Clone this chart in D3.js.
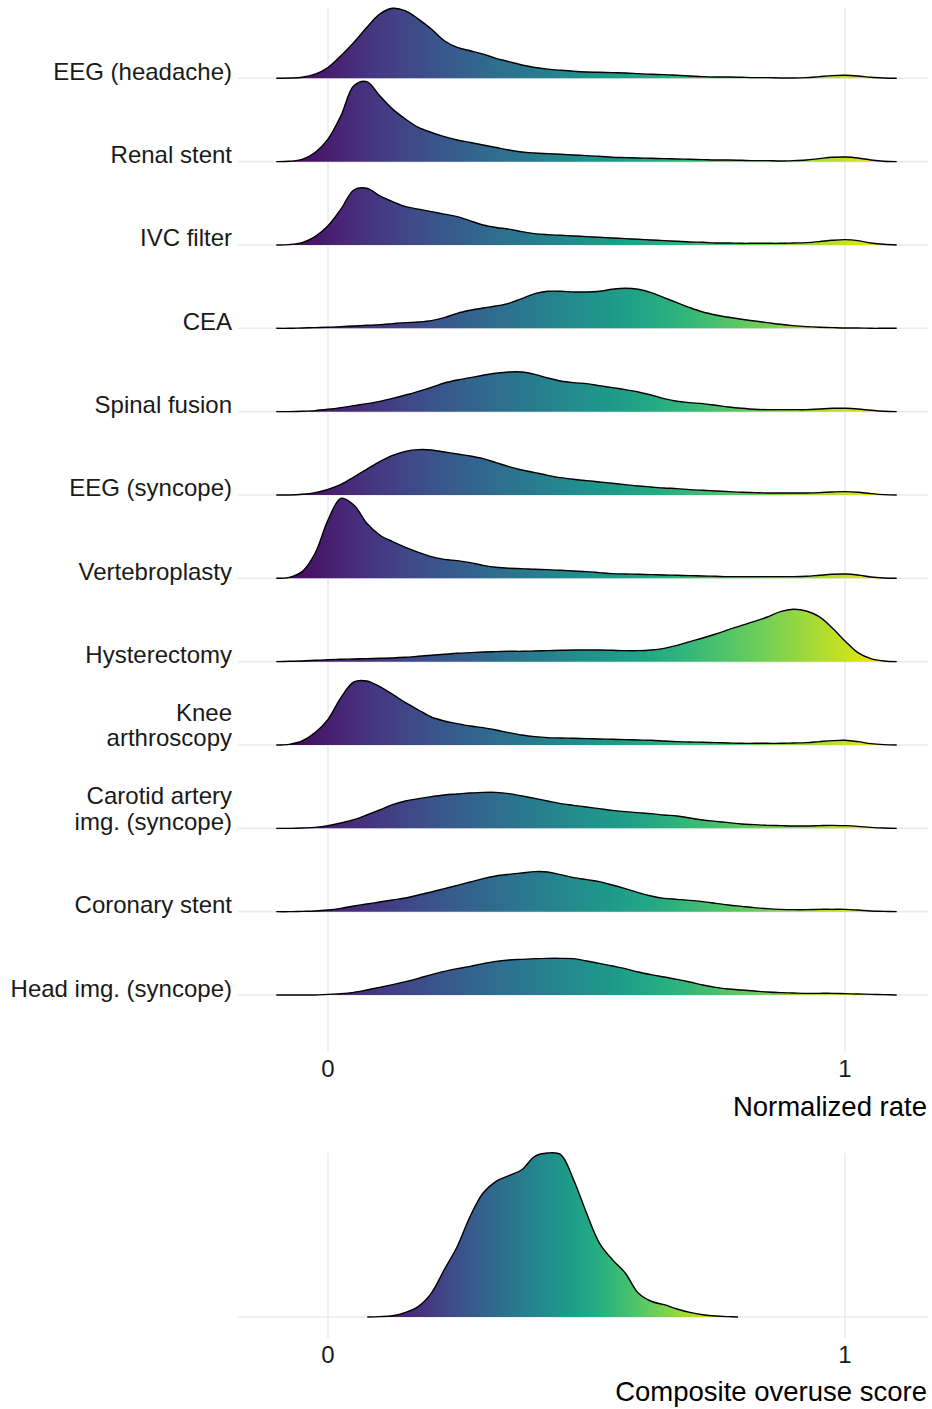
<!DOCTYPE html>
<html>
<head>
<meta charset="utf-8">
<script src="https://cdn.jsdelivr.net/npm/d3@7"></script>
<style>
  html, body { margin: 0; padding: 0; background: #ffffff; }
  svg { display: block; }
  text { font-family: "Liberation Sans", Arial, Helvetica, sans-serif; }
</style>
</head>
<body>
<svg id="chart" width="932" height="1409"></svg>
<script>
// Procedures, top to bottom ("\n" marks a line break in the axis label)
const categories = [
  "EEG (headache)",
  "Renal stent",
  "IVC filter",
  "CEA",
  "Spinal fusion",
  "EEG (syncope)",
  "Vertebroplasty",
  "Hysterectomy",
  "Knee\narthroscopy",
  "Carotid artery\nimg. (syncope)",
  "Coronary stent",
  "Head img. (syncope)"
];

// Normalized-rate positions at which each density is sampled
const rateGrid = [
  -0.1, -0.075, -0.05, -0.025, 0, 0.025, 0.05, 0.075, 0.1, 0.125,
  0.15, 0.175, 0.2, 0.225, 0.25, 0.275, 0.3, 0.325, 0.35, 0.375,
  0.4, 0.425, 0.45, 0.475, 0.5, 0.525, 0.55, 0.575, 0.6, 0.625,
  0.65, 0.675, 0.7, 0.725, 0.75, 0.775, 0.8, 0.825, 0.85, 0.875,
  0.9, 0.925, 0.95, 0.975, 1.0, 1.025, 1.05, 1.075, 1.1
];

// Density heights (in units of ridge spacing) for each procedure
const eegHeadache = [0, 0.003, 0.012, 0.05, 0.13, 0.27, 0.43, 0.61, 0.77, 0.84,
  0.81, 0.71, 0.59, 0.45, 0.37, 0.33, 0.29, 0.24, 0.20, 0.16,
  0.13, 0.11, 0.096, 0.084, 0.076, 0.072, 0.068, 0.064, 0.056, 0.048,
  0.044, 0.036, 0.028, 0.02, 0.016, 0.016, 0.012, 0.008, 0.008, 0.004,
  0.004, 0.008, 0.02, 0.032, 0.036, 0.028, 0.012, 0.004, 0];
const renalStent = [0, 0.004, 0.028, 0.11, 0.27, 0.55, 0.91, 0.96, 0.79, 0.63,
  0.51, 0.41, 0.35, 0.30, 0.26, 0.23, 0.20, 0.17, 0.14, 0.116,
  0.104, 0.096, 0.088, 0.08, 0.072, 0.064, 0.052, 0.048, 0.044, 0.04,
  0.036, 0.032, 0.028, 0.024, 0.02, 0.02, 0.016, 0.012, 0.012, 0.008,
  0.012, 0.02, 0.036, 0.052, 0.056, 0.044, 0.02, 0.004, 0];
const ivcFilter = [0, 0.004, 0.028, 0.1, 0.23, 0.43, 0.66, 0.68, 0.59, 0.52,
  0.46, 0.43, 0.40, 0.37, 0.34, 0.29, 0.24, 0.21, 0.19, 0.16,
  0.136, 0.124, 0.116, 0.108, 0.1, 0.092, 0.084, 0.076, 0.068, 0.06,
  0.052, 0.044, 0.036, 0.032, 0.024, 0.024, 0.02, 0.02, 0.02, 0.02,
  0.024, 0.028, 0.04, 0.056, 0.064, 0.052, 0.024, 0.008, 0];
const cea = [0, 0, 0.004, 0.008, 0.012, 0.02, 0.028, 0.036, 0.044, 0.056,
  0.068, 0.076, 0.092, 0.128, 0.18, 0.216, 0.244, 0.268, 0.30, 0.356,
  0.416, 0.444, 0.444, 0.436, 0.436, 0.444, 0.468, 0.48, 0.468, 0.428,
  0.368, 0.308, 0.248, 0.196, 0.16, 0.132, 0.108, 0.088, 0.068, 0.048,
  0.032, 0.02, 0.012, 0.008, 0.004, 0.004, 0, 0, 0];
const spinalFusion = [0, 0, 0.004, 0.012, 0.028, 0.048, 0.072, 0.096, 0.124, 0.16,
  0.2, 0.244, 0.292, 0.344, 0.38, 0.408, 0.436, 0.46, 0.476, 0.476,
  0.448, 0.404, 0.368, 0.348, 0.336, 0.312, 0.288, 0.264, 0.236, 0.2,
  0.156, 0.124, 0.108, 0.096, 0.076, 0.056, 0.04, 0.028, 0.024, 0.024,
  0.024, 0.024, 0.032, 0.04, 0.04, 0.032, 0.016, 0.004, 0];
const eegSyncope = [0, 0, 0.008, 0.028, 0.068, 0.128, 0.216, 0.308, 0.40, 0.476,
  0.524, 0.544, 0.54, 0.516, 0.492, 0.468, 0.436, 0.388, 0.34, 0.30,
  0.268, 0.236, 0.208, 0.188, 0.172, 0.156, 0.14, 0.124, 0.108, 0.096,
  0.084, 0.076, 0.064, 0.056, 0.048, 0.04, 0.032, 0.028, 0.024, 0.024,
  0.024, 0.024, 0.028, 0.036, 0.04, 0.032, 0.016, 0.004, 0];
const vertebroplasty = [0, 0.012, 0.08, 0.30, 0.70, 0.96, 0.88, 0.66, 0.52, 0.44,
  0.372, 0.312, 0.26, 0.228, 0.212, 0.188, 0.156, 0.132, 0.12, 0.116,
  0.108, 0.104, 0.096, 0.088, 0.08, 0.068, 0.056, 0.052, 0.048, 0.044,
  0.04, 0.036, 0.032, 0.028, 0.024, 0.02, 0.02, 0.02, 0.02, 0.02,
  0.02, 0.024, 0.036, 0.048, 0.052, 0.04, 0.016, 0.004, 0];
const hysterectomy = [0, 0.004, 0.008, 0.016, 0.024, 0.028, 0.032, 0.036, 0.04, 0.044,
  0.052, 0.064, 0.076, 0.088, 0.10, 0.108, 0.116, 0.12, 0.124, 0.124,
  0.128, 0.132, 0.136, 0.14, 0.14, 0.14, 0.136, 0.132, 0.132, 0.14,
  0.16, 0.196, 0.24, 0.284, 0.332, 0.384, 0.436, 0.484, 0.536, 0.60,
  0.628, 0.608, 0.54, 0.408, 0.248, 0.108, 0.036, 0.008, 0];
const kneeArthroscopy = [0, 0.008, 0.048, 0.148, 0.308, 0.568, 0.756, 0.768, 0.70, 0.608,
  0.508, 0.42, 0.336, 0.288, 0.256, 0.228, 0.208, 0.18, 0.148, 0.12,
  0.10, 0.088, 0.084, 0.08, 0.076, 0.072, 0.068, 0.064, 0.06, 0.056,
  0.048, 0.04, 0.036, 0.032, 0.028, 0.024, 0.02, 0.02, 0.02, 0.02,
  0.024, 0.028, 0.04, 0.052, 0.056, 0.04, 0.016, 0.004, 0];
const carotidImg = [0, 0, 0.004, 0.012, 0.032, 0.064, 0.104, 0.16, 0.22, 0.284,
  0.328, 0.356, 0.38, 0.40, 0.412, 0.424, 0.432, 0.432, 0.416, 0.388,
  0.36, 0.328, 0.296, 0.276, 0.256, 0.236, 0.216, 0.20, 0.188, 0.176,
  0.16, 0.148, 0.124, 0.10, 0.084, 0.068, 0.052, 0.044, 0.036, 0.032,
  0.028, 0.028, 0.032, 0.036, 0.032, 0.024, 0.012, 0.004, 0];
const coronaryStent = [0, 0, 0.004, 0.008, 0.02, 0.04, 0.068, 0.092, 0.116, 0.14,
  0.164, 0.20, 0.236, 0.276, 0.316, 0.356, 0.396, 0.428, 0.448, 0.464,
  0.48, 0.476, 0.444, 0.408, 0.384, 0.36, 0.32, 0.276, 0.228, 0.188,
  0.16, 0.148, 0.136, 0.12, 0.10, 0.08, 0.064, 0.048, 0.036, 0.028,
  0.024, 0.024, 0.028, 0.028, 0.028, 0.02, 0.008, 0.004, 0];
const headImg = [0, 0, 0, 0, 0.008, 0.016, 0.032, 0.06, 0.092, 0.124,
  0.16, 0.20, 0.244, 0.284, 0.316, 0.344, 0.376, 0.404, 0.42, 0.428,
  0.436, 0.44, 0.44, 0.436, 0.408, 0.38, 0.348, 0.316, 0.276, 0.244,
  0.216, 0.188, 0.156, 0.12, 0.092, 0.072, 0.06, 0.048, 0.036, 0.028,
  0.024, 0.02, 0.02, 0.02, 0.016, 0.012, 0.008, 0.004, 0];

const densities = [eegHeadache, renalStent, ivcFilter, cea, spinalFusion, eegSyncope,
  vertebroplasty, hysterectomy, kneeArthroscopy, carotidImg, coronaryStent, headImg];

// Composite overuse score density (scaled so the mode is 1)
const compositeGrid = [0.076, 0.1, 0.125, 0.15, 0.175, 0.2, 0.225, 0.25, 0.275, 0.3,
  0.325, 0.35, 0.375, 0.4, 0.425, 0.45, 0.475, 0.5, 0.525, 0.55,
  0.575, 0.6, 0.625, 0.65, 0.675, 0.7, 0.725, 0.75, 0.775, 0.793];
const compositeDensity = [0, 0.002, 0.008, 0.028, 0.065, 0.146, 0.289, 0.43, 0.614, 0.756,
  0.827, 0.862, 0.898, 0.98, 1.0, 0.99, 0.837, 0.634, 0.451, 0.35,
  0.268, 0.146, 0.096, 0.075, 0.049, 0.028, 0.014, 0.006, 0.002, 0];

const xTicks = [0, 1];
const xTitleTop = "Normalized rate";
const xTitleBottom = "Composite overuse score";

// ---------------------------------------------------------------
const svg = d3.select("#chart");
const gridColor = "#ebebeb";
const textColor = "#1a1a1a";
const curve = d3.curveCatmullRom.alpha(0.5);

const x = d3.scaleLinear().domain([0, 1]).range([328, 845]);
const y = d3.scalePoint().domain(categories).range([78.3, 995]);
const h = d3.scaleLinear().domain([0, 1]).range([0, y.step()]);

const panelLeft = 238, panelRight = 928;

const defs = svg.append("defs");
function viridisGradient(id, lo, hi) {
  const g = defs.append("linearGradient")
    .attr("id", id)
    .attr("gradientUnits", "userSpaceOnUse")
    .attr("x1", x(lo)).attr("x2", x(hi))
    .attr("y1", 0).attr("y2", 0);
  d3.range(0, 1.0001, 0.05).forEach(t => {
    g.append("stop").attr("offset", t).attr("stop-color", d3.interpolateViridis(t));
  });
}
viridisGradient("fillTop", d3.min(rateGrid), d3.max(rateGrid));
viridisGradient("fillBottom", d3.min(compositeGrid), d3.max(compositeGrid));

// ---- Top panel: ridgelines ----
const topPanel = svg.append("g");

topPanel.append("g").selectAll("line")
  .data(categories).join("line")
  .attr("x1", panelLeft).attr("x2", panelRight)
  .attr("y1", d => y(d)).attr("y2", d => y(d))
  .attr("stroke", gridColor).attr("stroke-width", 1.6);

topPanel.append("g").selectAll("line")
  .data(xTicks).join("line")
  .attr("x1", d => x(d)).attr("x2", d => x(d))
  .attr("y1", 8).attr("y2", 1052)
  .attr("stroke", gridColor).attr("stroke-width", 1.6);

const ridges = topPanel.append("g");
categories.forEach((cat, i) => {
  const base = y(cat);
  const vals = densities[i];
  const area = d3.area()
    .x((d, j) => x(rateGrid[j]))
    .y0(base)
    .y1(d => base - h(d))
    .curve(curve);
  const line = d3.line()
    .x((d, j) => x(rateGrid[j]))
    .y(d => base - h(d))
    .curve(curve);
  const g = ridges.append("g");
  g.append("path").attr("d", area(vals)).attr("fill", "url(#fillTop)");
  g.append("path").attr("d", line(vals))
    .attr("fill", "none").attr("stroke", "#000").attr("stroke-width", 1.4)
    .attr("stroke-linejoin", "round");
});

// Category labels, right aligned, sitting on each ridge's baseline
const labels = topPanel.append("g")
  .attr("font-size", 24).attr("fill", textColor).attr("text-anchor", "end");
categories.forEach(cat => {
  const lines = cat.split("\n");
  const t = labels.append("text").attr("x", 232).attr("y", y(cat) + 1.5);
  lines.forEach((ln, k) => {
    t.append("tspan")
      .attr("x", 232)
      .attr("y", y(cat) + 1.5 - (lines.length - 1 - k) * 25.8)
      .text(ln);
  });
});

// x tick labels and title
topPanel.append("g").selectAll("text")
  .data(xTicks).join("text")
  .attr("x", d => x(d)).attr("y", 1077)
  .attr("text-anchor", "middle").attr("font-size", 24).attr("fill", textColor)
  .text(d => d);
topPanel.append("text")
  .attr("x", 927).attr("y", 1116)
  .attr("text-anchor", "end").attr("font-size", 27.5).attr("fill", "#000")
  .text(xTitleTop);

// ---- Bottom panel: composite score ----
const bottomPanel = svg.append("g");
const yc = d3.scaleLinear().domain([0, 1]).range([1317, 1153]);

bottomPanel.append("line")
  .attr("x1", panelLeft).attr("x2", panelRight)
  .attr("y1", yc(0)).attr("y2", yc(0))
  .attr("stroke", gridColor).attr("stroke-width", 1.6);
bottomPanel.append("g").selectAll("line")
  .data(xTicks).join("line")
  .attr("x1", d => x(d)).attr("x2", d => x(d))
  .attr("y1", 1153).attr("y2", 1338)
  .attr("stroke", gridColor).attr("stroke-width", 1.6);

const cArea = d3.area()
  .x((d, j) => x(compositeGrid[j]))
  .y0(yc(0))
  .y1(d => yc(d))
  .curve(curve);
const cLine = d3.line()
  .x((d, j) => x(compositeGrid[j]))
  .y(d => yc(d))
  .curve(curve);
bottomPanel.append("path").attr("d", cArea(compositeDensity)).attr("fill", "url(#fillBottom)");
bottomPanel.append("path").attr("d", cLine(compositeDensity))
  .attr("fill", "none").attr("stroke", "#000").attr("stroke-width", 1.4)
  .attr("stroke-linejoin", "round");

bottomPanel.append("g").selectAll("text")
  .data(xTicks).join("text")
  .attr("x", d => x(d)).attr("y", 1363)
  .attr("text-anchor", "middle").attr("font-size", 24).attr("fill", textColor)
  .text(d => d);
bottomPanel.append("text")
  .attr("x", 927).attr("y", 1401)
  .attr("text-anchor", "end").attr("font-size", 27.5).attr("fill", "#000")
  .text(xTitleBottom);
</script>
</body>
</html>
